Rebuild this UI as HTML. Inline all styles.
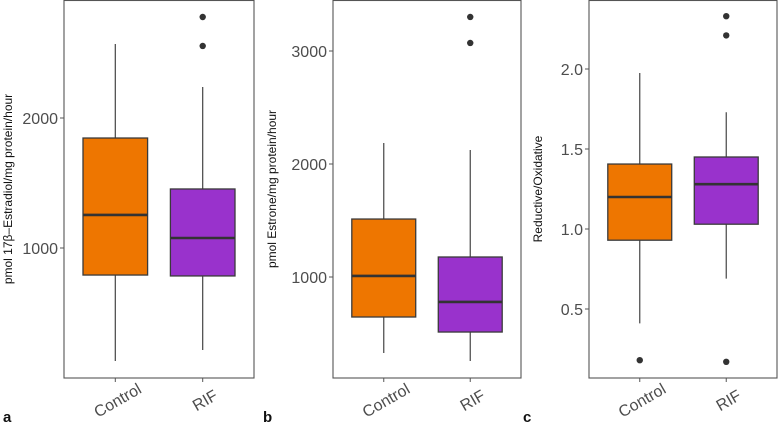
<!DOCTYPE html>
<html><head><meta charset="utf-8">
<style>
body{margin:0;background:#fff;}
svg{display:block;font-family:"Liberation Sans",sans-serif;}
</style></head>
<body>
<svg id="chart" width="778" height="430" viewBox="0 0 778 430" xmlns="http://www.w3.org/2000/svg"></svg>
<script>
// Shared
const categories = ["Control", "RIF"];
const fills = ["#ee7600", "#9932cc"];
// Panel a: 17β-Estradiol [lowWhisker, Q1, median, Q3, highWhisker]
const statsA = [[131, 792, 1254, 1846, 2569], [215, 785, 1077, 1454, 2238]];
const outliersA = [[], [2554, 2777]];
const ticksA = [1000, 2000];
// Panel b: Estrone
const statsB = [[327, 646, 1009, 1513, 2186], [257, 513, 779, 1177, 2124]];
const outliersB = [[], [3071, 3301]];
const ticksB = [1000, 2000, 3000];
// Panel c: Reductive/Oxidative
const statsC = [[0.41, 0.93, 1.2, 1.406, 1.975], [0.69, 1.03, 1.28, 1.45, 1.73]];
const outliersC = [[0.18], [0.17, 2.21, 2.33]];
const ticksC = [0.5, 1.0, 1.5, 2.0];
const tickLabelsC = ["0.5", "1.0", "1.5", "2.0"];

const NS = "http://www.w3.org/2000/svg";
const svg = document.getElementById("chart");
function mk(tag, attrs, parent) {
  const e = document.createElementNS(NS, tag);
  for (const k in attrs) e.setAttribute(k, attrs[k]);
  (parent || svg).appendChild(e);
  return e;
}
const panels = [
  {id: "a", left: 64, right: 254, stats: statsA, outs: outliersA, ticks: ticksA, labels: ticksA.map(String),
   v0: 1000, y0: 248, ppu: 0.13, title: "pmol 17β–Estradiol/mg protein/hour", titleX: 12, letterX: 3},
  {id: "b", left: 333, right: 521, stats: statsB, outs: outliersB, ticks: ticksB, labels: ticksB.map(String),
   v0: 1000, y0: 277, ppu: 0.113, title: "pmol Estrone/mg protein/hour", titleX: 276, letterX: 263},
  {id: "c", left: 589, right: 777, stats: statsC, outs: outliersC, ticks: ticksC, labels: tickLabelsC,
   v0: 1.0, y0: 229, ppu: 160, title: "Reductive/Oxidative", titleX: 542, letterX: 523}
];
const plotTop = 0, plotBottom = 378;
panels.forEach(p => {
  const g = mk("g", {});
  
  
  const y = v => p.y0 - (v - p.v0) * p.ppu;
  const w = p.right - p.left;
  const xc = i => p.left + w * (0.27 + 0.46 * i);
  const bw = w * 0.34;
  const fr = mk("rect", {x: p.left, y: plotTop + 0.5, width: w, height: plotBottom - plotTop - 0.5, fill: "#fff", stroke: "#555", "stroke-width": 1.1}, g);
  
  
  p.ticks.forEach((t, i) => {
    const ty = y(t);
    const tk = mk("line", {x1: p.left - 4, x2: p.left, y1: ty, y2: ty, stroke: "#555", "stroke-width": 1}, g);
    
    
    const tl = mk("text", {x: p.left - 6, y: ty + 6, "text-anchor": "end", "font-size": 16, fill: "#4d4d4d"}, g);
    tl.textContent = p.labels[i];
    
    
  });
  const yt = mk("text", {x: p.titleX, y: 189, transform: `rotate(-90 ${p.titleX} 189)`, "text-anchor": "middle", "font-size": 12, fill: "#111"}, g);
  yt.textContent = p.title;
  
  
  p.stats.forEach((s, i) => {
    const cx = xc(i);
    const wl = mk("line", {x1: cx, x2: cx, y1: y(s[4]), y2: y(s[0]), stroke: "#444", "stroke-width": 1.2}, g);
    
    
    const bx = mk("rect", {x: cx - bw / 2, y: y(s[3]), width: bw, height: y(s[1]) - y(s[3]), fill: fills[i], stroke: "#3a3a3a", "stroke-width": 1.3}, g);
    
    
    const md = mk("line", {x1: cx - bw / 2, x2: cx + bw / 2, y1: y(s[2]), y2: y(s[2]), stroke: "#333", "stroke-width": 2.6}, g);
    
    
    p.outs[i].forEach(o => {
      const c = mk("circle", {cx: cx, cy: y(o), r: 3.2, fill: "#333"}, g);
      
      
    });
    const xt = mk("line", {x1: cx, x2: cx, y1: plotBottom, y2: plotBottom + 4, stroke: "#555", "stroke-width": 1}, g);
    
    
    const lx = cx + 5, ly = plotBottom + 27;
    const xl = mk("text", {x: lx, y: ly, transform: `rotate(-30 ${lx} ${ly})`, "text-anchor": "middle", "font-size": 16, fill: "#4d4d4d"}, g);
    xl.textContent = categories[i];
    
    
  });
  const lt = mk("text", {x: p.letterX, y: 422, "font-size": 15, "font-weight": "bold", fill: "#111"}, g);
  lt.textContent = p.id;
  
  
});
</script>
</body></html>
